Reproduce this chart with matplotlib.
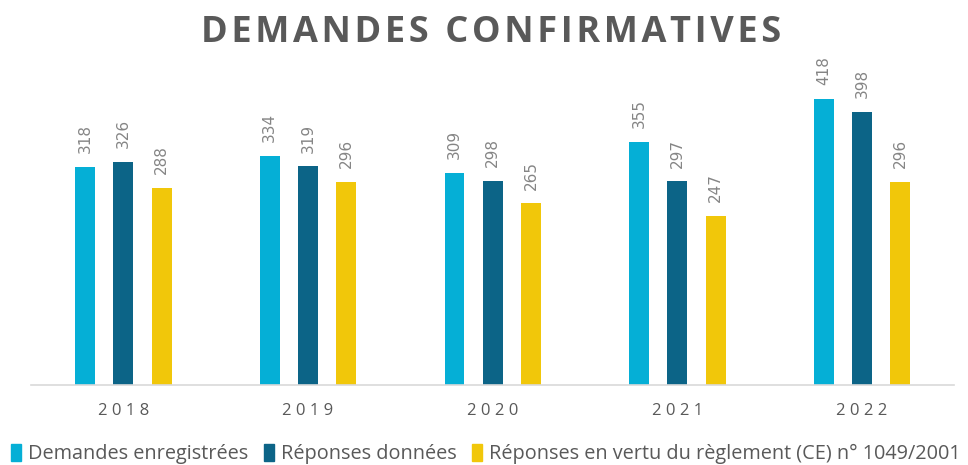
import numpy as np
import matplotlib
matplotlib.use("Agg")
import matplotlib.pyplot as plt
from matplotlib.patches import Patch

# data
years = ["2018", "2019", "2020", "2021", "2022"]
demandes = [318, 334, 309, 355, 418]
reponses = [326, 319, 298, 297, 398]
reponses_ce = [288, 296, 265, 247, 296]
series_names = ["Demandes enregistrées", "Réponses données",
                "Réponses en vertu du règlement (CE) n° 1049/2001"]
colors = ["#05afd6", "#0c6487", "#f1c70a"]
title = "DEMANDES CONFIRMATIVES"

fig = plt.figure(figsize=(9.68, 4.65), dpi=100)
ax = fig.add_axes([0.032, 0.172, 0.954, 0.70])

x = np.arange(len(years))
width = 0.108
offset = 0.207
all_series = [demandes, reponses, reponses_ce]
for k, vals in enumerate(all_series):
    pos = x + (k - 1) * offset
    ax.bar(pos, vals, width=width, color=colors[k], label=series_names[k])
    for p, v in zip(pos, vals):
        ax.annotate(str(v), (p, v), xytext=(0, 10), textcoords="offset points",
                    rotation=90, ha="center", va="bottom",
                    fontsize=11, color="#858585")

ax.set_xlim(-0.5, len(years) - 0.5)
ax.set_ylim(0, 475)
ax.set_yticks([])
ax.set_xticks(x)
ax.set_xticklabels(["\u2009\u200a".join(y) for y in years], fontsize=12,
                   color="#595959", family="Open Sans")
ax.tick_params(axis="x", length=0, pad=13)
for s in ["top", "right", "left"]:
    ax.spines[s].set_visible(False)
ax.spines["bottom"].set_color("#d9d9d9")
ax.spines["bottom"].set_linewidth(1.2)

# letter-spaced title
fig.text(0.507, 0.93, "\u200a".join(title), ha="center", va="center",
         fontsize=26, fontweight="bold", color="#595959", family="Open Sans")

handles = [Patch(color=c) for c in colors]
fig.legend(handles, series_names, loc="lower center", ncol=3,
           bbox_to_anchor=(0.502, -0.037), frameon=False,
           handlelength=0.5, handleheight=0.9, handletextpad=0.35,
           columnspacing=0.8, labelcolor="#595959",
           prop={"family": "Open Sans", "size": 14.3})

fig.savefig("out.png", dpi=100)
